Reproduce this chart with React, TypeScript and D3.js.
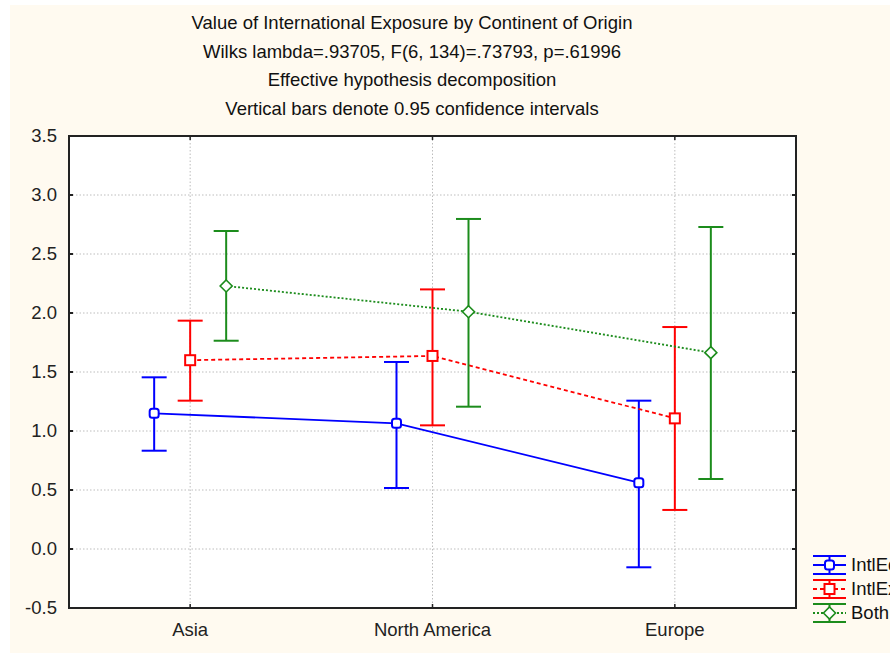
import React from "react";
import * as d3 from "d3";

const categories = ["Asia", "North America", "Europe"];
const seriesNames = ["IntlEduc", "IntlExp", "Both"];
const intlEdMean = [1.15, 1.065, 0.562];
const intlEdLow = [0.833, 0.517, -0.155];
const intlEdHigh = [1.455, 1.585, 1.257];
const intlExMean = [1.6, 1.636, 1.107];
const intlExLow = [1.257, 1.048, 0.331];
const intlExHigh = [1.935, 2.2, 1.881];
const bothMean = [2.229, 2.011, 1.664];
const bothLow = [1.765, 1.206, 0.593];
const bothHigh = [2.695, 2.797, 2.729];
const yTicks = [-0.5, 0.0, 0.5, 1.0, 1.5, 2.0, 2.5, 3.0, 3.5];
const titleLines = [
  "Value of International Exposure by Continent of Origin",
  "Wilks lambda=.93705, F(6, 134)=.73793, p=.61996",
  "Effective hypothesis decomposition",
  "Vertical bars denote 0.95 confidence intervals",
];

const W = 890;
const H = 653;
const M = { left: 69, right: 796, top: 136, bottom: 608 };
const FONT = "'Liberation Sans', Arial, sans-serif";
const FS = 18.5;

type Series = {
  name: string;
  mean: number[];
  low: number[];
  high: number[];
  color: string;
  dash: string | undefined;
  marker: "circle" | "square" | "diamond";
  offset: number;
};

const series: Series[] = [
  { name: seriesNames[0], mean: intlEdMean, low: intlEdLow, high: intlEdHigh, color: "#0000ff", dash: undefined, marker: "circle", offset: -36 },
  { name: seriesNames[1], mean: intlExMean, low: intlExLow, high: intlExHigh, color: "#ff0000", dash: "4,3", marker: "square", offset: 0 },
  { name: seriesNames[2], mean: bothMean, low: bothLow, high: bothHigh, color: "#1c8c1c", dash: "2,2", marker: "diamond", offset: 36 },
];

function Marker({ kind, x, y, color }: { kind: string; x: number; y: number; color: string }) {
  if (kind === "circle") {
    return <rect x={x - 4.5} y={y - 4.5} width={9} height={9} rx={2.5} fill="#fff" stroke={color} strokeWidth={2} />;
  }
  if (kind === "square") {
    return <rect x={x - 5} y={y - 5} width={10} height={10} fill="#fff" stroke={color} strokeWidth={2} />;
  }
  return (
    <path d={`M${x},${y - 6}L${x + 6},${y}L${x},${y + 6}L${x - 6},${y}Z`} fill="#fff" stroke={color} strokeWidth={1.6} />
  );
}

export default function App() {
  const x = d3.scalePoint<string>().domain(categories).range([M.left, M.right]).padding(0.5);
  const y = d3.scaleLinear().domain([-0.5, 3.5]).range([M.bottom, M.top]);
  const fmt = (t: number) => d3.format(".1f")(t).replace("\u2212", "-");
  const capW = 12.5;

  return (
    <svg width={W} height={H} style={{ position: "absolute", left: 0, top: 0, display: "block" }} fontFamily={FONT}>
      <rect x={0} y={0} width={W} height={H} fill="#ffffff" />
      <rect x={10} y={5} width={W - 10} height={H - 5} fill="#fffaf0" />
      {titleLines.map((t, i) => (
        <text key={i} x={412} y={23 + i * 28.5} dy="0.35em" textAnchor="middle" fontSize={FS} fill="#111">
          {t}
        </text>
      ))}
      <rect x={M.left} y={M.top} width={M.right - M.left} height={M.bottom - M.top} fill="#ffffff" />
      {yTicks.map((t) => (
        <line key={"gy" + t} x1={M.left} x2={M.right} y1={y(t)} y2={y(t)} stroke="#bdbdbd" strokeDasharray="1.5,2" strokeWidth={1} />
      ))}
      {categories.map((c) => (
        <line key={"gx" + c} x1={x(c)} x2={x(c)} y1={M.top} y2={M.bottom} stroke="#bdbdbd" strokeDasharray="1.5,2" strokeWidth={1} />
      ))}
      {series.map((s) => {
        const pts: [number, number][] = s.mean.map((m, i) => [(x(categories[i]) as number) + s.offset, y(m)]);
        const path = d3.line()(pts) as string;
        return (
          <g key={s.name}>
            <path d={path} fill="none" stroke={s.color} strokeWidth={1.8} strokeDasharray={s.dash} />
            {s.mean.map((m, i) => {
              const cx = (x(categories[i]) as number) + s.offset;
              return (
                <g key={i}>
                  <line x1={cx} x2={cx} y1={y(s.low[i])} y2={y(s.high[i])} stroke={s.color} strokeWidth={2} />
                  <line x1={cx - capW} x2={cx + capW} y1={y(s.low[i])} y2={y(s.low[i])} stroke={s.color} strokeWidth={2} />
                  <line x1={cx - capW} x2={cx + capW} y1={y(s.high[i])} y2={y(s.high[i])} stroke={s.color} strokeWidth={2} />
                </g>
              );
            })}
            {s.mean.map((m, i) => (
              <Marker key={"m" + i} kind={s.marker} x={(x(categories[i]) as number) + s.offset} y={y(m)} color={s.color} />
            ))}
          </g>
        );
      })}
      <rect x={M.left} y={M.top} width={M.right - M.left} height={M.bottom - M.top} fill="none" stroke="#222" strokeWidth={2} />
      {yTicks.map((t) => (
        <g key={"ty" + t}>
          <line x1={M.left} x2={M.left + 4} y1={y(t)} y2={y(t)} stroke="#222" strokeWidth={2} />
          <line x1={M.right - 4} x2={M.right} y1={y(t)} y2={y(t)} stroke="#222" strokeWidth={2} />
          <text x={57} y={y(t)} dy="0.35em" textAnchor="end" fontSize={FS} fill="#222">
            {fmt(t)}
          </text>
        </g>
      ))}
      {categories.map((c) => (
        <g key={"tx" + c}>
          <line x1={x(c)} x2={x(c)} y1={M.bottom} y2={M.bottom - 4} stroke="#222" strokeWidth={1.5} />
          <line x1={x(c)} x2={x(c)} y1={M.top} y2={M.top + 4} stroke="#222" strokeWidth={1.5} />
          <text x={x(c)} y={630} dy="0.35em" textAnchor="middle" fontSize={FS} fill="#222">
            {c}
          </text>
        </g>
      ))}
      {series.map((s, i) => {
        const ly = 565 + i * 24;
        const lx1 = 813;
        const lx2 = 846;
        const lc = 829.5;
        return (
          <g key={"lg" + s.name}>
            <line x1={lx1} x2={lx2} y1={ly - 9} y2={ly - 9} stroke={s.color} strokeWidth={2} />
            <line x1={lx1} x2={lx2} y1={ly + 9} y2={ly + 9} stroke={s.color} strokeWidth={2} />
            <line x1={lc} x2={lc} y1={ly - 9} y2={ly + 9} stroke={s.color} strokeWidth={2} />
            <line x1={lx1} x2={lx2} y1={ly} y2={ly} stroke={s.color} strokeWidth={1.8} strokeDasharray={s.dash} />
            <Marker kind={s.marker} x={lc} y={ly} color={s.color} />
            <text x={851} y={ly} dy="0.35em" fontSize={FS} fill="#111">
              {s.name}
            </text>
          </g>
        );
      })}
    </svg>
  );
}
